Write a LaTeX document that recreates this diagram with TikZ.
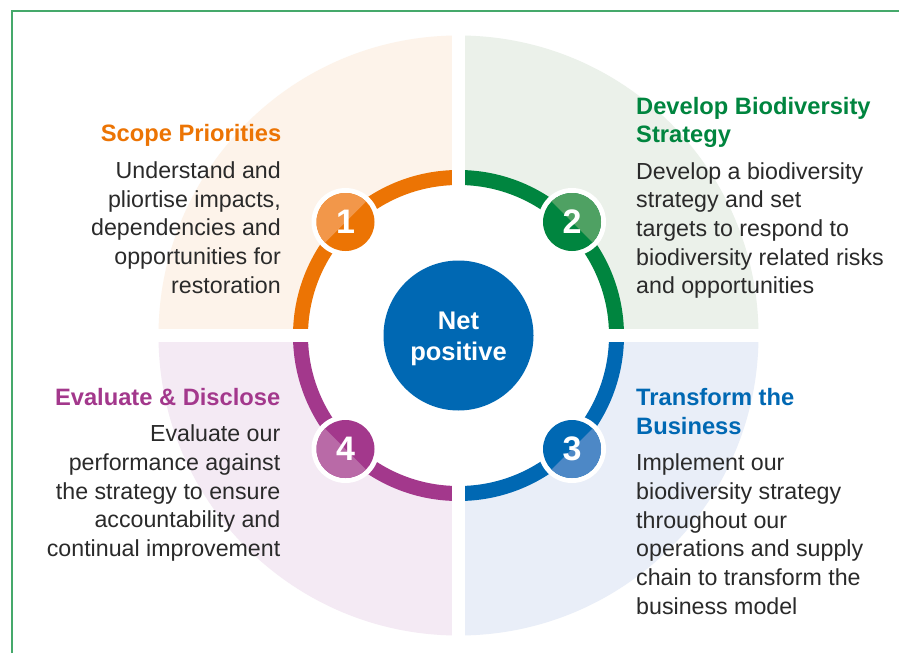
\documentclass[tikz,border=0pt]{standalone}
\usepackage{fontspec}
\setmainfont{Liberation Sans}
\usetikzlibrary{calc}
\definecolor{orng}{HTML}{EC7404}
\definecolor{orngL}{HTML}{F2974A}
\definecolor{orngP}{HTML}{FDF3EA}
\definecolor{grn}{HTML}{00853F}
\definecolor{grnL}{HTML}{4FA163}
\definecolor{grnP}{HTML}{EBF1EA}
\definecolor{blu}{HTML}{0068B3}
\definecolor{bluL}{HTML}{4D88C6}
\definecolor{bluP}{HTML}{E9EEF8}
\definecolor{prp}{HTML}{A3388C}
\definecolor{prpL}{HTML}{B96AA7}
\definecolor{prpP}{HTML}{F4EAF4}
\definecolor{txt}{HTML}{2A2A2A}
\definecolor{framec}{HTML}{45A96B}
\begin{document}
\begin{tikzpicture}[x=1pt,y=-1pt,
  titletxt/.style={font=\fontsize{23.7}{28.7}\selectfont\bfseries, inner sep=0pt},
  bodytxt/.style={font=\fontsize{23.2}{28.7}\selectfont, text=txt, inner sep=0pt},
  numdisk/.style={circle, fill=white, minimum size=68pt, inner sep=0pt},
  numtxt/.style={font=\fontsize{34}{34}\selectfont\bfseries, text=white, inner sep=0pt},
  ringline/.style={line width=15pt}]
\useasboundingbox (0,0) rectangle (899,653);
\fill[white] (0,0) rectangle (899,653);
\coordinate (C) at (458.5,335.5);
% quadrants
\begin{scope}
  \clip (0,0) rectangle (C);
  \fill[orngP] (C) circle[radius=300pt];
  \fill[white] (C) circle[radius=151pt];
  \draw[orng, ringline] (C) circle[radius=158pt];
\end{scope}
\begin{scope}
  \clip (C) rectangle (899,0);
  \fill[grnP] (C) circle[radius=300pt];
  \fill[white] (C) circle[radius=151pt];
  \draw[grn, ringline] (C) circle[radius=158pt];
\end{scope}
\begin{scope}
  \clip (C) rectangle (899,653);
  \fill[bluP] (C) circle[radius=300pt];
  \fill[white] (C) circle[radius=151pt];
  \draw[blu, ringline] (C) circle[radius=158pt];
\end{scope}
\begin{scope}
  \clip (C) rectangle (0,653);
  \fill[prpP] (C) circle[radius=300pt];
  \fill[white] (C) circle[radius=151pt];
  \draw[prp, ringline] (C) circle[radius=158pt];
\end{scope}
% white cross
\fill[white] (452,30) rectangle (465,642);
\fill[white] (150,329) rectangle (767,342);
% frame
\draw[framec, line width=2pt] (12,653) -- (12,11) -- (899,11);
% centre
\node[circle, fill=blu, minimum size=150pt, inner sep=0pt] (ctr) at (C) {};
\node[font=\fontsize{25.5}{31}\selectfont\bfseries, text=white, align=center, anchor=base, inner sep=0pt] (ctrtxt) at (458.5,360.5) {Net\\positive};
% number discs
\node[numdisk] (n1) at (345.5,222) {};
\node[numdisk] (n2) at (572,222) {};
\node[numdisk] (n3) at (572,449) {};
\node[numdisk] (n4) at (345.5,449) {};
\fill[orng] (n1) circle[radius=29pt];
\fill[grn] (n2) circle[radius=29pt];
\fill[blu] (n3) circle[radius=29pt];
\fill[prp] (n4) circle[radius=29pt];
\begin{scope}
  \clip (n1) circle[radius=29pt];
  \fill[orngL] ($(n1)+(40,-40)$) -- ($(n1)+(-40,40)$) -- ($(n1)+(-40,-40)$) -- cycle;
\end{scope}
\begin{scope}
  \clip (n2) circle[radius=29pt];
  \fill[grnL] ($(n2)+(-40,-40)$) -- ($(n2)+(40,40)$) -- ($(n2)+(40,-40)$) -- cycle;
\end{scope}
\begin{scope}
  \clip (n3) circle[radius=29pt];
  \fill[bluL] ($(n3)+(40,-40)$) -- ($(n3)+(-40,40)$) -- ($(n3)+(40,40)$) -- cycle;
\end{scope}
\begin{scope}
  \clip (n4) circle[radius=29pt];
  \fill[prpL] ($(n4)+(-40,-40)$) -- ($(n4)+(40,40)$) -- ($(n4)+(-40,40)$) -- cycle;
\end{scope}
\node[numtxt] (d1) at (n1) {1};
\node[numtxt] (d2) at (n2) {2};
\node[numtxt] (d3) at (n3) {3};
\node[numtxt] (d4) at (n4) {4};
% texts (base anchor = baseline of the last line)
\node[titletxt, text=orng, anchor=base east] (t1) at (281.5,141.5) {Scope Priorities};
\node[bodytxt, align=right, anchor=base east] (b1) at (281,293.1) {Understand and\\pliortise impacts,\\dependencies and\\opportunities for\\restoration};
\node[titletxt, text=grn, align=left, anchor=base west] (t2) at (636,142.9) {Develop Biodiversity\\Strategy};
\node[bodytxt, align=left, anchor=base west] (b2) at (636,293.8) {Develop a biodiversity\\strategy and set\\targets to respond to\\biodiversity related risks\\and opportunities};
\node[titletxt, text=blu, align=left, anchor=base west] (t3) at (636,434.2) {Transform the\\Business};
\node[bodytxt, align=left, anchor=base west] (b3) at (636,614.2) {Implement our\\biodiversity strategy\\throughout our\\operations and supply\\chain to transform the\\business model};
\node[titletxt, text=prp, anchor=base east] (t4) at (280.5,405) {Evaluate \& Disclose};
\node[bodytxt, align=right, anchor=base east] (b4) at (280.5,556.5) {Evaluate our\\performance against\\the strategy to ensure\\accountability and\\continual improvement};
\end{tikzpicture}
\end{document}
